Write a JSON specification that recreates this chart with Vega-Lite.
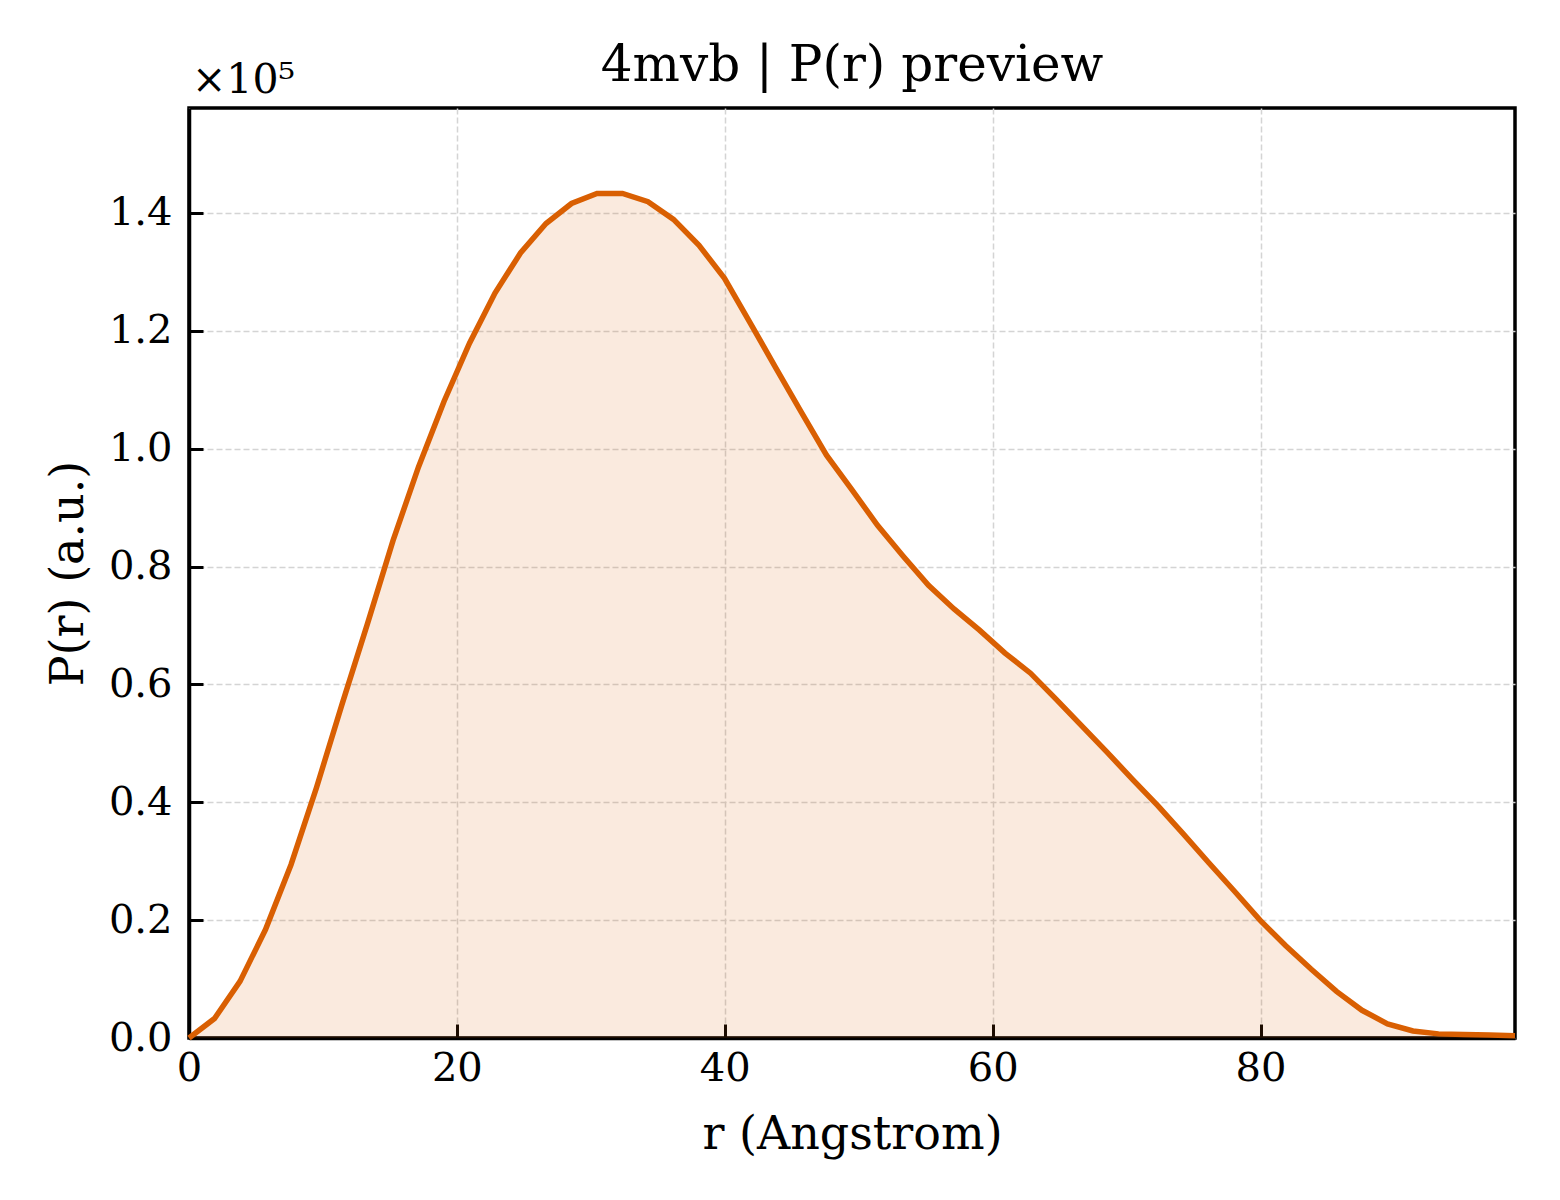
{
  "$schema": "https://vega.github.io/schema/vega-lite/v6.json",
  "width": 1326,
  "height": 930,
  "autosize": "none",
  "padding": {"left": 189, "top": 108, "right": 45, "bottom": 162},
  "background": "white",
  "config": {
    "font": "DejaVu Serif",
    "view": {"stroke": "black", "strokeWidth": 3.5},
    "axis": {
      "domainColor": "black",
      "domainWidth": 3.5,
      "tickColor": "black",
      "tickWidth": 3,
      "tickSize": -14,
      "labelFont": "DejaVu Serif",
      "labelFontSize": 40,
      "labelColor": "black",
      "titleFont": "DejaVu Serif",
      "titleFontSize": 46,
      "titleFontWeight": "normal",
      "titleColor": "black",
      "grid": true,
      "gridColor": "#d4d4d4",
      "gridWidth": 1.5,
      "gridDash": [6, 3]
    }
  },
  "title": {
    "text": "4mvb | P(r) preview",
    "font": "DejaVu Serif",
    "fontSize": 50,
    "fontWeight": "normal",
    "color": "black",
    "anchor": "middle",
    "baseline": "alphabetic",
    "offset": -71
  },
  "datasets": {
    "pr": [
      {"r": 0, "p": 0},
      {"r": 1.904, "p": 3300},
      {"r": 3.808, "p": 9600},
      {"r": 5.712, "p": 18400},
      {"r": 7.615, "p": 29400},
      {"r": 9.519, "p": 42500},
      {"r": 11.423, "p": 56600},
      {"r": 13.327, "p": 70300},
      {"r": 15.231, "p": 84400},
      {"r": 17.135, "p": 96900},
      {"r": 19.038, "p": 108000},
      {"r": 20.942, "p": 117900},
      {"r": 22.846, "p": 126400},
      {"r": 24.75, "p": 133200},
      {"r": 26.654, "p": 138200},
      {"r": 28.558, "p": 141600},
      {"r": 30.462, "p": 143300},
      {"r": 32.365, "p": 143300},
      {"r": 34.269, "p": 141900},
      {"r": 36.173, "p": 138900},
      {"r": 38.077, "p": 134500},
      {"r": 39.981, "p": 128900},
      {"r": 41.885, "p": 121400},
      {"r": 43.788, "p": 113800},
      {"r": 45.692, "p": 106300},
      {"r": 47.596, "p": 98900},
      {"r": 49.5, "p": 93000},
      {"r": 51.404, "p": 87000},
      {"r": 53.308, "p": 81800},
      {"r": 55.212, "p": 76800},
      {"r": 57.115, "p": 72800},
      {"r": 59.019, "p": 69200},
      {"r": 60.923, "p": 65300},
      {"r": 62.827, "p": 61900},
      {"r": 64.731, "p": 57500},
      {"r": 66.635, "p": 53000},
      {"r": 68.538, "p": 48500},
      {"r": 70.442, "p": 43900},
      {"r": 72.346, "p": 39400},
      {"r": 74.25, "p": 34600},
      {"r": 76.154, "p": 29700},
      {"r": 78.058, "p": 24900},
      {"r": 79.962, "p": 20000},
      {"r": 81.865, "p": 15700},
      {"r": 83.769, "p": 11700},
      {"r": 85.673, "p": 7900},
      {"r": 87.577, "p": 4700},
      {"r": 89.481, "p": 2400},
      {"r": 91.385, "p": 1200},
      {"r": 93.288, "p": 700},
      {"r": 95.192, "p": 600},
      {"r": 97.096, "p": 500},
      {"r": 99.0, "p": 400}
    ],
    "offset_label": [
      {"label": "×10⁵"}
    ]
  },
  "layer": [
    {
      "data": {"name": "pr"},
      "mark": {"type": "area", "color": "#d95f02", "opacity": 0.13},
      "encoding": {
        "x": {
          "field": "r",
          "type": "quantitative",
          "title": "r (Angstrom)",
          "scale": {"domain": [0, 99], "nice": false, "zero": false},
          "axis": {"values": [0, 20, 40, 60, 80], "labelPadding": 24, "titlePadding": 24, "labelFlush": false}
        },
        "y": {
          "field": "p",
          "type": "quantitative",
          "title": "P(r) (a.u.)",
          "scale": {"domain": [0, 157800], "nice": false},
          "axis": {
            "values": [0, 20000, 40000, 60000, 80000, 100000, 120000, 140000],
            "labelExpr": "format(datum.value / 100000, '.1f')",
            "labelPadding": 31,
            "titlePadding": 16,
            "labelFlush": false
          }
        }
      }
    },
    {
      "data": {"name": "pr"},
      "mark": {"type": "line", "color": "#d95f02", "strokeWidth": 5.5},
      "encoding": {
        "x": {"field": "r", "type": "quantitative"},
        "y": {"field": "p", "type": "quantitative"}
      }
    },
    {
      "data": {"name": "offset_label"},
      "mark": {"type": "text", "clip": false, "font": "DejaVu Serif", "fontSize": 41, "color": "black", "align": "left", "baseline": "alphabetic", "dx": 3, "dy": -15},
      "encoding": {
        "x": {"datum": 0, "type": "quantitative"},
        "y": {"datum": 157800, "type": "quantitative"},
        "text": {"field": "label", "type": "nominal"}
      }
    }
  ]
}
